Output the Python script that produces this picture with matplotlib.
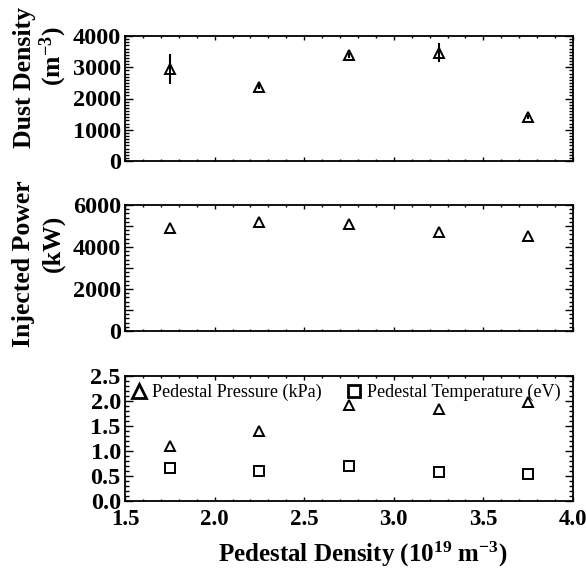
import matplotlib
matplotlib.use("Agg")
import matplotlib.pyplot as plt
from matplotlib.lines import Line2D
from matplotlib.ticker import MultipleLocator, FuncFormatter

plt.rcParams["font.family"] = ["Liberation Serif", "DejaVu Serif"]
plt.rcParams["mathtext.default"] = "regular"

# pedestal density bins (1e19 m^-3)
density = [1.75, 2.25, 2.75, 3.25, 3.75]

dust = [2950, 2370, 3390, 3470, 1420]
dust_err = [490, 80, 80, 310, 60]

power = [4910, 5200, 5090, 4700, 4500]

pressure = [1.10, 1.40, 1.92, 1.85, 1.99]
temperature = [0.66, 0.61, 0.71, 0.58, 0.54]

W, H = 586, 575
fig = plt.figure(figsize=(W / 100, H / 100), dpi=100)


def panel(top, bottom):
    return fig.add_axes([125 / W, (H - bottom) / H, 448 / W, (bottom - top) / H])


def style(ax, ymajor, yminor, show_x):
    ax.set_xlim(1.5, 4.0)
    ax.xaxis.set_major_locator(MultipleLocator(0.5))
    ax.xaxis.set_minor_locator(MultipleLocator(0.1))
    ax.yaxis.set_major_locator(MultipleLocator(ymajor))
    ax.yaxis.set_minor_locator(MultipleLocator(yminor))
    ax.tick_params(which="both", direction="in", top=True, right=True, width=1.0)
    ax.tick_params(axis="y", which="major", length=5.5, pad=3, labelsize=17.5)
    ax.tick_params(axis="y", which="minor", length=3)
    ax.tick_params(axis="x", which="major", length=3, pad=6, labelsize=16.5)
    ax.tick_params(axis="x", which="minor", length=1.5)
    if not show_x:
        ax.tick_params(axis="x", labelbottom=False)
    for sp in ax.spines.values():
        sp.set_linewidth(1.3)


def bold_ticks(ax):
    for lab in ax.get_xticklabels() + ax.get_yticklabels():
        lab.set_fontweight("bold")


mk = dict(marker="^", markersize=7.5, markerfacecolor="none",
          markeredgecolor="black", markeredgewidth=1.4, linestyle="none")

# --- dust density
ax1 = panel(36, 161)
ax1.errorbar(density, dust, yerr=dust_err, color="black", elinewidth=1.5,
             capsize=0, **mk)
ax1.set_ylim(0, 4000)
style(ax1, 1000, 100, False)
bold_ticks(ax1)

# --- injected power
ax2 = panel(205, 331)
ax2.plot(density, power, **mk)
ax2.set_ylim(0, 6000)
style(ax2, 1000, 200, False)
ax2.yaxis.set_major_formatter(FuncFormatter(
    lambda v, p: f"{int(v)}" if int(round(v)) % 2000 == 0 else ""))
bold_ticks(ax2)

# --- pedestal pressure / temperature
ax3 = panel(376, 501)
ax3.plot(density, pressure, **mk)
ax3.plot(density, temperature, marker="s", markersize=7.5, markerfacecolor="none",
         markeredgecolor="black", markeredgewidth=1.4, linestyle="none")
ax3.set_ylim(0, 2.5)
style(ax3, 0.5, 0.1, True)
ax3.yaxis.set_major_formatter(FuncFormatter(lambda v, p: f"{v:.1f}"))
bold_ticks(ax3)
ax3.set_xlabel("Pedestal Density (10$^{19}$ m$^{-3}$)", fontsize=18,
               fontweight="bold")
ax3.xaxis.set_label_coords(0.531, -0.43)
ax3.xaxis.label.set_va("center")

handles = [
    Line2D([], [], marker="^", markersize=10, markerfacecolor="none",
           markeredgecolor="black", markeredgewidth=2, linestyle="none",
           label="Pedestal Pressure (kPa)"),
    Line2D([], [], marker="s", markersize=8.5, markerfacecolor="none",
           markeredgecolor="black", markeredgewidth=2, linestyle="none",
           label="Pedestal Temperature (eV)"),
]
ax3.legend(handles=handles, loc="upper left", bbox_to_anchor=(0.0, 0.98),
           ncol=2, frameon=False, fontsize=13.1, handlelength=0.9,
           handletextpad=0.3, columnspacing=1.3, borderpad=0.1,
           borderaxespad=0.2)

# y labels (two lines each, placed by hand)
fig.text(24 / W, 1 - 78 / H, "Dust Density", rotation=90, ha="center",
         va="center", fontsize=18.5, fontweight="bold")
fig.text(53 / W, 1 - 56 / H, "(m$^{-3}$)", rotation=90, ha="center",
         va="center", fontsize=18.5, fontweight="bold")
fig.text(24 / W, 1 - 264 / H, "Injected Power", rotation=90, ha="center",
         va="center", fontsize=18.5, fontweight="bold")
fig.text(53 / W, 1 - 243 / H, "(kW)", rotation=90, ha="center",
         va="center", fontsize=18.5, fontweight="bold")

fig.savefig("out.png", dpi=100)
